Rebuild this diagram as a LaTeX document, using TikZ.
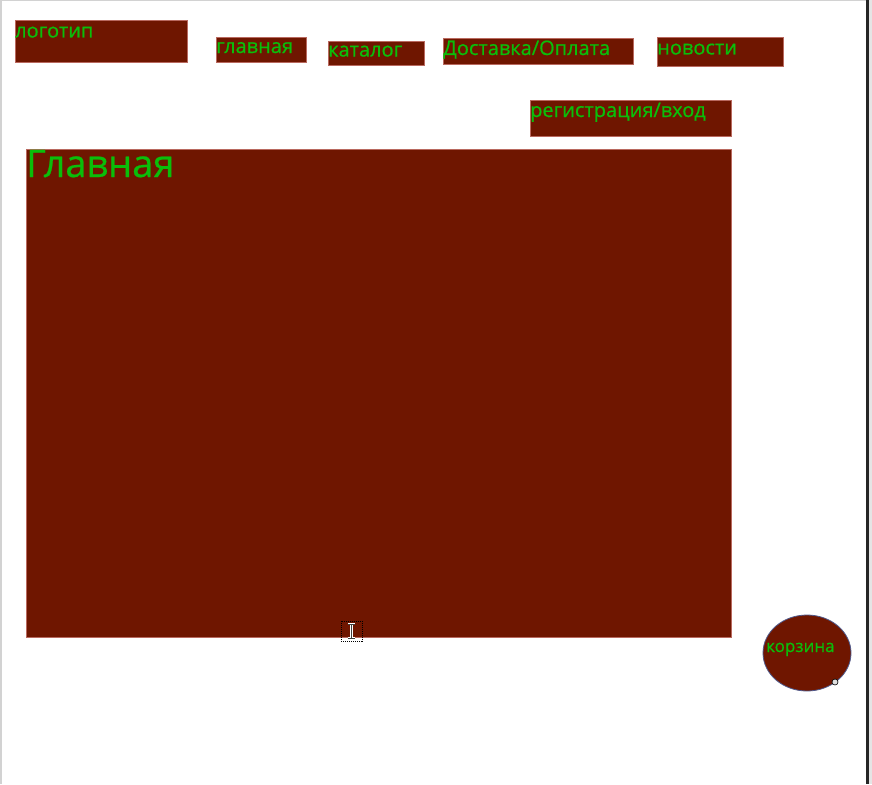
\documentclass[tikz,border=0pt]{standalone}
\usepackage{fontspec}
\setmainfont{Open Sans}
\newfontfamily\thickfont{Open Sans}[FakeBold=0.6]
\usetikzlibrary{shapes.geometric}
\definecolor{brick}{RGB}{111,22,0}
\definecolor{edge}{RGB}{185,105,95}
\definecolor{leaf}{RGB}{10,190,10}
\definecolor{ring}{RGB}{80,90,140}
\begin{document}
\begin{tikzpicture}[x=1pt,y=-1pt,
box/.style={draw=edge,line width=0.5pt,fill=brick,anchor=north west,inner sep=0pt},
lbl/.style={text=leaf,anchor=base west,inner sep=0pt,font=\thickfont\fontsize{20}{24}\selectfont}]
\useasboundingbox[fill=white] (0,0) rectangle (872,784);
% window frame
\fill[gray!35] (0,0) rectangle (866,1.5);
\fill[gray!35] (0,0) rectangle (1.5,784);
\fill[black!85] (866,0) rectangle (868.5,784);
\fill[gray!20] (868.5,0) rectangle (872,784);
% header
\node[box,minimum width=172,minimum height=42] (logo) at (15,20) {};
\node[box,minimum width=90,minimum height=25] (home) at (216,37) {};
\node[box,minimum width=96,minimum height=24] (cat) at (328,41) {};
\node[box,minimum width=190,minimum height=26] (ship) at (443,38) {};
\node[box,minimum width=126,minimum height=29] (news) at (657,37) {};
\node[box,minimum width=201,minimum height=36] (reg) at (530,100) {};
\node[lbl] (logoT) at ([yshift=-17.5pt]logo.north west) {логотип};
\node[lbl] (homeT) at ([yshift=-16pt]home.north west) {главная};
\node[lbl] (catT) at ([yshift=-15.5pt]cat.north west) {каталог};
\node[lbl] (shipT) at ([yshift=-17pt]ship.north west) {Доставка/Оплата};
\node[lbl] (newsT) at ([yshift=-17.5pt]news.north west) {новости};
\node[lbl] (regT) at ([yshift=-17pt]reg.north west) {регистрация/вход};
% page body
\node[box,minimum width=705,minimum height=488] (main) at (26,149) {};
\node[lbl,font=\thickfont\fontsize{38}{44}\selectfont] (mainT) at ([yshift=-28pt]main.north west) {Главная};
% cart
\node[ellipse,draw=ring,line width=0.8pt,fill=brick,minimum width=88,minimum height=76,inner sep=0pt] (cart) at (807,653) {};
\node[lbl,font=\thickfont\fontsize{17}{21}\selectfont] (cartT) at ([xshift=-41pt,yshift=1pt]cart.center) {корзина};
\node[circle,draw=black,fill=gray!25,line width=0.6pt,minimum size=6,inner sep=0pt] (grip) at (835,682) {};
% text cursor
\node[draw=black,dash pattern=on 1pt off 1pt,line width=0.8pt,minimum width=21,minimum height=20,inner sep=0pt] (caret) at (351.5,631) {};
\draw[white,line width=2.4pt] (348,624)--(355,624) (351.5,624)--(351.5,638) (348,638)--(355,638);
\draw[black!75,line width=1pt] (348,624)--(355,624) (351.5,624)--(351.5,638) (348,638)--(355,638);
\end{tikzpicture}
\end{document}
